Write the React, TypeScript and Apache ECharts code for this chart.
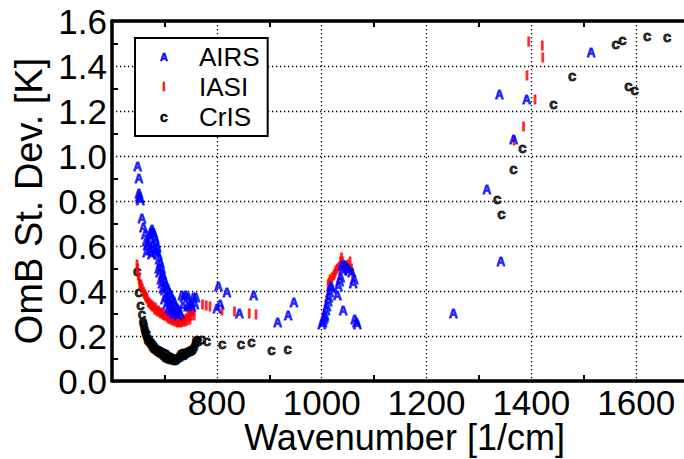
import React, { useEffect, useRef } from "react";
import * as echarts from "echarts";

const FONT = "'Liberation Sans', Arial, Helvetica, sans-serif";

// x tick labels handled by axis; values: [wavenumber, OmB std dev]
const xTicks = [800, 1000, 1200, 1400, 1600];
const yTicks = [0, 0.2, 0.4, 0.6, 0.8, 1.0, 1.2, 1.4, 1.6];

const airs: [number, number][] = [
  [649, 0.95], [651, 0.9], [651, 0.83], [652, 0.82], [653, 0.81], [654, 0.8], [657, 0.72], [660, 0.68], [663, 0.65],
  [665, 0.62], [667, 0.6], [666, 0.57], [670, 0.61], [672, 0.64], [674, 0.66], [676, 0.67], [678, 0.66], [680, 0.65],
  [682, 0.63], [684, 0.61], [672, 0.58], [675, 0.56], [678, 0.6], [681, 0.58], [684, 0.57], [686, 0.59], [688, 0.56],
  [690, 0.54], [692, 0.52], [689, 0.5], [694, 0.5], [691, 0.48], [696, 0.47], [693, 0.45], [698, 0.46], [695, 0.43],
  [700, 0.44], [703, 0.42], [697, 0.41], [706, 0.41], [700, 0.4], [709, 0.39], [703, 0.38], [712, 0.38], [706, 0.37],
  [715, 0.36], [700, 0.36], [709, 0.35], [718, 0.35], [712, 0.34], [704, 0.34], [721, 0.33], [715, 0.33], [708, 0.32],
  [724, 0.32], [718, 0.31], [712, 0.31], [727, 0.31], [721, 0.3], [716, 0.3], [725, 0.29], [730, 0.3],
  [733, 0.38], [737, 0.37], [741, 0.38], [745, 0.37], [749, 0.34], [752, 0.33], [755, 0.37], [758, 0.34], [760, 0.37],
  [735, 0.33], [744, 0.33],
  [800, 0.32], [803, 0.42], [806, 0.34], [819, 0.39], [843, 0.3], [870, 0.38], [916, 0.26], [936, 0.29], [947, 0.345],
  [1000, 0.25], [1002, 0.26], [1003, 0.27], [1005, 0.28], [1006, 0.29], [1008, 0.31], [1010, 0.33], [1012, 0.35],
  [1013, 0.37], [1015, 0.39], [1017, 0.42], [1019, 0.41], [1030, 0.38], [1032, 0.42], [1034, 0.44], [1036, 0.46],
  [1038, 0.51], [1040, 0.49], [1041, 0.31], [1044, 0.51], [1048, 0.5], [1052, 0.49], [1057, 0.48], [1060, 0.43],
  [1062, 0.45], [1063, 0.27], [1066, 0.26], [1068, 0.25],
  [1251, 0.3], [1315, 0.85], [1339, 1.27], [1342, 0.53], [1366, 1.07], [1391, 1.25], [1514, 1.46],
];

const iasi: [number, number][] = [
  [648, 0.52], [649, 0.5], [650, 0.47], [652, 0.45], [653, 0.43], [655, 0.43], [656, 0.42], [658, 0.41], [660, 0.4],
  [661, 0.39], [663, 0.385], [664, 0.375], [666, 0.37], [667, 0.365], [669, 0.355], [670, 0.35], [672, 0.345],
  [674, 0.34], [676, 0.335], [677, 0.33], [679, 0.33], [681, 0.32], [683, 0.325], [685, 0.315], [687, 0.31],
  [689, 0.315], [691, 0.305], [693, 0.3], [695, 0.305], [697, 0.295], [699, 0.29], [701, 0.295], [703, 0.285],
  [705, 0.29], [707, 0.28], [709, 0.285], [711, 0.275], [713, 0.28], [715, 0.27], [717, 0.31], [718, 0.275],
  [720, 0.265], [722, 0.27], [724, 0.26], [726, 0.27], [728, 0.26], [730, 0.265], [732, 0.26], [734, 0.27],
  [736, 0.265], [738, 0.275], [740, 0.265], [742, 0.28], [744, 0.27], [745, 0.31], [747, 0.285], [749, 0.275],
  [751, 0.32], [752, 0.29], [754, 0.31], [756, 0.32], [757, 0.29],
  [773, 0.34], [780, 0.335], [787, 0.33], [810, 0.315], [834, 0.31], [862, 0.3], [875, 0.295],
  [1012, 0.43], [1014, 0.44], [1016, 0.45], [1020, 0.46], [1023, 0.47], [1025, 0.48], [1027, 0.49], [1030, 0.5],
  [1033, 0.51], [1036, 0.53], [1038, 0.55], [1040, 0.53], [1042, 0.52], [1045, 0.51], [1048, 0.5], [1050, 0.52],
  [1054, 0.53], [1057, 0.5], [1059, 0.48],
  [1367, 1.07], [1385, 1.13], [1392, 1.36], [1395, 1.51], [1407, 1.25], [1421, 1.49], [1422, 1.44],
];

const cris: [number, number][] = [
  [648, 0.49], [651, 0.4], [654, 0.34], [657, 0.3],
  [659, 0.27], [660, 0.26], [661, 0.25], [662, 0.24], [663, 0.23], [664, 0.22], [666, 0.215], [665, 0.205],
  [667, 0.2], [669, 0.195], [668, 0.185], [670, 0.18], [672, 0.185], [673, 0.17], [675, 0.175], [676, 0.16],
  [678, 0.165], [679, 0.15], [681, 0.16], [682, 0.145], [684, 0.15], [686, 0.135], [688, 0.145], [689, 0.13],
  [691, 0.14], [693, 0.125], [695, 0.135], [697, 0.12], [699, 0.13], [701, 0.11], [703, 0.125], [705, 0.105],
  [707, 0.12], [709, 0.1], [711, 0.115], [713, 0.1], [715, 0.11], [717, 0.097], [719, 0.105], [721, 0.097],
  [723, 0.1], [725, 0.105], [727, 0.115], [729, 0.11], [731, 0.125], [733, 0.12], [735, 0.13], [737, 0.12],
  [739, 0.13], [741, 0.125], [743, 0.135], [745, 0.13], [747, 0.14], [749, 0.135], [751, 0.145], [753, 0.14],
  [755, 0.15], [757, 0.16], [759, 0.17], [760, 0.185], [762, 0.19], [765, 0.18], [771, 0.19], [781, 0.18],
  [810, 0.165], [846, 0.165], [866, 0.175], [904, 0.14], [935, 0.145],
  [1335, 0.81], [1343, 0.745], [1366, 0.945], [1383, 1.04], [1442, 1.235], [1478, 1.36], [1561, 1.5],
  [1574, 1.52], [1585, 1.315], [1597, 1.295], [1621, 1.535], [1659, 1.53],
];

const seriesNames = ["AIRS", "IASI", "CrIS"];
const markers = ["A", "I", "c"];
const colors = ["#0000ff", "#ff0000", "#000000"];
const markerSizes = [12, 13, 15];

export default function App() {
  const ref = useRef<HTMLDivElement>(null);
  useEffect(() => {
    document.body.style.margin = "0";
    if (!ref.current) return;
    const chart = echarts.init(ref.current, null, { renderer: "svg" });
    const datasets = [airs, iasi, cris];
    const rich: any = {
      t: { fontSize: 26, color: "#000", fontFamily: FONT, padding: [0, 0, 0, 21] },
    };
    seriesNames.forEach((n, i) => {
      rich["m" + i] = {
        color: colors[i],
        fontSize: markerSizes[i] - 1,
        fontWeight: "bold",
        fontFamily: FONT,
        width: 28,
        align: "center",
        textBorderColor: colors[i],
        textBorderWidth: 0.5,
      };
    });
    const axisCommon = {
      axisLine: { show: true, onZero: false, lineStyle: { color: "#000", width: 3.5 } },
      axisTick: { show: false, inside: true },
      minorTick: { show: true, splitNumber: 2, length: 6, lineStyle: { color: "#000", width: 2 } },
    };
    const gridLine = { show: true, lineStyle: { color: "#000", width: 1.3, type: [1.3, 2.7] } };
    chart.setOption({
      animation: false,
      grid: {
        left: 112,
        right: -57,
        top: 21,
        bottom: 78,
        show: false,
        containLabel: false,
        outerBoundsMode: "none",
      },
      legend: {
        left: 135,
        top: 38,
        orient: "vertical",
        selectedMode: false,
        data: seriesNames,
        itemWidth: 0,
        itemHeight: 0,
        itemGap: 4,
        padding: [6, 8, 6, 10],
        borderColor: "#000",
        borderWidth: 2,
        backgroundColor: "#fff",
        formatter: (name: string) => {
          const i = seriesNames.indexOf(name);
          return `{m${i}|${markers[i]}}{t|${name}}`;
        },
        textStyle: { fontSize: 26, color: "#000", fontFamily: FONT, rich },
      },
      xAxis: [
        {
          type: "value",
          min: 600,
          max: 1800,
          interval: 200,
          position: "bottom",
          ...axisCommon,
          splitLine: gridLine,
          axisLabel: {
            fontSize: 35,
            color: "#000",
            fontFamily: FONT,
            margin: 4,
            showMinLabel: false,
            showMaxLabel: false,
            formatter: (v: number) => (xTicks.includes(v) ? String(v) : ""),
          },
          name: "Wavenumber [1/cm]",
          nameLocation: "middle",
          nameGap: 38,
          nameMoveOverlap: false,
          nameTextStyle: { fontSize: 36, color: "#000", fontFamily: FONT, padding: [0, 44, 0, 0] },
        },
        {
          type: "value",
          min: 600,
          max: 1800,
          interval: 200,
          position: "top",
          ...axisCommon,
          splitLine: { show: false },
          axisLabel: { show: false },
        },
      ],
      yAxis: [
        {
          type: "value",
          min: 0,
          max: 1.6,
          interval: 0.2,
          position: "left",
          ...axisCommon,
          splitLine: gridLine,
          axisLabel: {
            fontSize: 35,
            color: "#000",
            fontFamily: FONT,
            margin: 5,
            formatter: (v: number) => {
              const m = yTicks.find((t) => Math.abs(t - v) < 1e-6);
              return m === undefined ? "" : m.toFixed(1);
            },
          },
          name: "OmB St. Dev. [K]",
          nameLocation: "middle",
          nameGap: 64,
          nameMoveOverlap: false,
          nameTextStyle: { fontSize: 38, color: "#000", fontFamily: FONT },
        },
      ],
      series: seriesNames.map((n, i) => ({
        type: "scatter",
        name: n,
        data: datasets[i],
        xAxisIndex: 0,
        yAxisIndex: 0,
        symbol: "circle",
        symbolSize: 1,
        silent: true,
        itemStyle: { color: "rgba(0,0,0,0)" },
        label: {
          show: true,
          position: "inside",
          formatter: markers[i],
          color: colors[i],
          fontSize: markerSizes[i],
          fontWeight: "bold",
          fontFamily: FONT,
          textBorderColor: colors[i],
          textBorderWidth: 0.9,
        },
        emphasis: { disabled: true },
        z: 3 - i,
      })),
    });
    return () => chart.dispose();
  }, []);
  return <div ref={ref} style={{ width: 684, height: 459 }} />;
}
